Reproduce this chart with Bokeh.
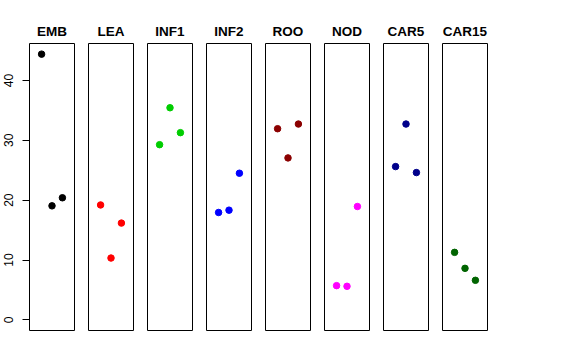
from bokeh.plotting import figure
from bokeh.layouts import row
from bokeh.models import FixedTicker, Range1d, Title
from bokeh.embed import file_html
from bokeh.resources import INLINE

groups = ["EMB", "LEA", "INF1", "INF2", "ROO", "NOD", "CAR5", "CAR15"]
colors = ["#000000", "#FF0000", "#00CD00", "#0000FF", "#8B0000", "#FF00FF", "#00008B", "#006400"]
positions = [1, 2, 3]
emb = [44.4, 19.05, 20.4]
lea = [19.2, 10.33, 16.17]
inf1 = [29.27, 35.44, 31.28]
inf2 = [17.94, 18.33, 24.5]
roo = [31.94, 27.06, 32.72]
nod = [5.72, 5.61, 18.94]
car5 = [25.61, 32.72, 24.61]
car15 = [11.28, 8.61, 6.61]
series = [emb, lea, inf1, inf2, roo, nod, car5, car15]
y_ticks = [0, 10, 20, 30, 40]

ymax = max(max(s) for s in series)
ypad = ymax * 0.04
FONT = "Liberation Sans"

figs = []
for i, (g, c, vals) in enumerate(zip(groups, colors, series)):
    first = i == 0
    f = figure(
        width=(29 + 45 + 7) if first else 59,
        height=340,
        x_range=Range1d(-0.16, 4.16),
        y_range=Range1d(-ypad, ymax + ypad),
        output_backend="svg",
        toolbar_location=None,
        min_border_left=29 if first else 7,
        min_border_right=7,
        min_border_top=43,
        min_border_bottom=10,
        title=None,
    )
    t = Title(text=g, align="center", text_font=FONT, text_font_size="13.5px",
              text_font_style="bold", text_color="#000000", standoff=9)
    f.add_layout(t, "above")
    f.xaxis.visible = False
    f.grid.visible = False
    f.outline_line_color = "#000000"
    f.outline_line_width = 1
    f.outline_line_alpha = 1
    f.background_fill_color = "white"
    f.border_fill_color = "white"
    if first:
        ax = f.yaxis[0]
        ax.ticker = FixedTicker(ticks=y_ticks)
        ax.bounds = (0, 40)
        ax.major_label_orientation = "vertical"
        ax.major_label_text_font = FONT
        ax.major_label_text_font_size = "12px"
        ax.major_label_text_color = "#000000"
        ax.major_label_standoff = 9
        ax.major_tick_out = 7
        ax.major_tick_in = 0
        ax.minor_tick_line_color = None
        ax.axis_line_color = "#000000"
        ax.major_tick_line_color = "#000000"
    else:
        f.yaxis.visible = False
    f.scatter(positions, vals, size=6.5, color=c, line_color=c)
    figs.append(f)

p = row(*figs)
open("out.html", "w").write(file_html(p, INLINE))
